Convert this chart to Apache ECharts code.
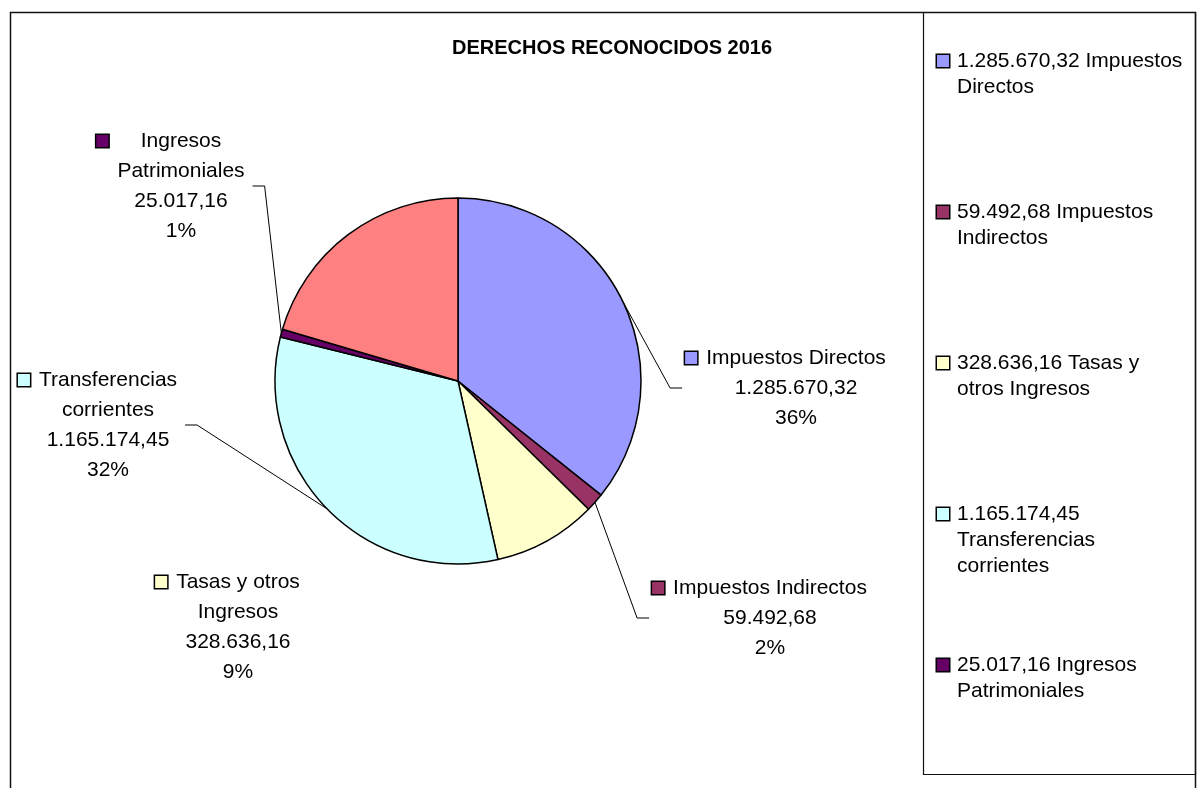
<!DOCTYPE html>
<html>
<head>
<meta charset="utf-8">
<script src="https://cdn.jsdelivr.net/npm/echarts@6/dist/echarts.min.js"></script>
<style>
html, body { margin: 0; background: #fff; }
#chart { width: 1202px; height: 788px; }
</style>
</head>
<body>
<div id="chart"></div>
<script>
// datos
const categorias = ['Impuestos Directos', 'Impuestos Indirectos', 'Tasas y otros Ingresos', 'Transferencias corrientes', 'Ingresos Patrimoniales'];
const importes = [1285670.32, 59492.68, 328636.16, 1165174.45, 25017.16];
// sector rojo sin rotular, estimado por su ángulo
const restoSinEtiqueta = 736000;
const colores = ['#9999FF', '#993366', '#FFFFCC', '#CCFFFF', '#660066', '#FF8080'];

// posicion (centro) de cada etiqueta
const labelCentro = [[796, 388], [770, 618], [238, 627], [108, 425], [181, 186]];

const FUENTE = '"Liberation Sans", Arial, sans-serif';
const ctx = document.createElement('canvas').getContext('2d');
function ancho(txt, size) {
    ctx.font = size + 'px ' + FUENTE;
    return ctx.measureText(txt).width;
}
function partir(txt, max, size) {
    let words = txt.split(' ');
    let lines = [];
    let cur = '';
    for (let w of words) {
        let prueba = cur ? cur + ' ' + w : w;
        if (cur && ancho(prueba, size) > max) {
            lines.push(cur);
            cur = w;
        } else {
            cur = prueba;
        }
    }
    lines.push(cur);
    return lines;
}
function fmt(v) {
    let p = v.toFixed(2).split('.');
    return p[0].replace(/\B(?=(\d{3})+(?!\d))/g, '.') + ',' + p[1];
}

let etiquetaLineas = categorias.map(c => partir(c, 200, 21));
let anchoEtiqueta = etiquetaLineas.map(ls => Math.max(...ls.map(l => ancho(l, 21))));

let richLabel = {
    g: { width: 9, lineHeight: 30 },
    g2: { width: 21, lineHeight: 30 }
};
let richLeyenda = {
    g: { width: 8, lineHeight: 26 },
    ind: { width: 20, lineHeight: 26 }
};
for (let i = 0; i < categorias.length; i++) {
    let sq = { width: 12, height: 12, backgroundColor: colores[i], borderColor: '#000', borderWidth: 1.5 };
    richLabel['sq' + i] = Object.assign({ lineHeight: 30 }, sq);
    richLeyenda['sq' + i] = Object.assign({ lineHeight: 26 }, sq);
    richLabel['t' + i] = { width: anchoEtiqueta[i], align: 'center', fontSize: 21, fontFamily: FUENTE, color: '#000', lineHeight: 30 };
}

let datos = categorias.map((c, i) => ({
    name: c,
    value: importes[i],
    itemStyle: { color: colores[i] },
    labelLine: { show: i !== 2 }
}));
datos.push({
    name: 'resto',
    value: restoSinEtiqueta,
    itemStyle: { color: colores[5] },
    label: { show: false },
    labelLine: { show: false }
});

let chart = echarts.init(document.getElementById('chart'));
chart.setOption({
    animation: false,
    backgroundColor: '#fff',
    title: {
        text: 'DERECHOS RECONOCIDOS 2016',
        left: 452,
        top: 38,
        padding: 0,
        textStyle: { fontSize: 20, fontWeight: 'bold', fontFamily: FUENTE, color: '#000' }
    },
    legend: {
        orient: 'vertical',
        left: 932,
        top: 48,
        padding: 0,
        itemGap: 73,
        itemWidth: 0,
        itemHeight: 14,
        icon: 'none',
        selectedMode: false,
        data: categorias,
        formatter: function (name) {
            let i = categorias.indexOf(name);
            let lines = partir(fmt(importes[i]) + ' ' + name, 230, 21);
            let s = '{sq' + i + '|}{g|}' + lines[0];
            for (let k = 1; k < lines.length; k++) {
                s += '\n{ind|}' + lines[k];
            }
            for (let k = lines.length; k < 3; k++) {
                s += '\n ';
            }
            return s;
        },
        textStyle: { fontSize: 21, fontFamily: FUENTE, color: '#000', lineHeight: 26, rich: richLeyenda }
    },
    graphic: [
        { type: 'rect', silent: true, shape: { x: 10.5, y: 12.5, width: 1185, height: 800 }, style: { fill: 'none', stroke: '#111', lineWidth: 1.5 } },
        { type: 'rect', silent: true, shape: { x: 923.5, y: 12.5, width: 272, height: 762 }, style: { fill: 'none', stroke: '#111', lineWidth: 1.2 } }
    ],
    series: [{
        type: 'pie',
        center: [458, 381],
        radius: 183,
        startAngle: 90,
        clockwise: true,
        percentPrecision: 0,
        avoidLabelOverlap: false,
        emphasis: { scale: false },
        itemStyle: { borderColor: '#000', borderWidth: 1.5 },
        label: {
            fontSize: 21,
            fontFamily: FUENTE,
            color: '#000',
            lineHeight: 30,
            align: 'center',
            rich: richLabel,
            formatter: function (p) {
                let i = p.dataIndex;
                if (i >= etiquetaLineas.length) return '';
                let ls = etiquetaLineas[i];
                let s = '{sq' + i + '|}{g|}{t' + i + '|' + ls[0] + '}{g2|}';
                for (let k = 1; k < ls.length; k++) s += '\n' + ls[k];
                s += '\n' + fmt(p.value) + '\n' + p.percent + '%';
                return s;
            }
        },
        labelLine: { lineStyle: { color: '#000', width: 1 } },
        labelLayout: function (p) {
            let i = p.dataIndex;
            if (i == null || i >= labelCentro.length) return {};
            let x = labelCentro[i][0];
            let y = labelCentro[i][1];
            let res = { x: x, y: y, align: 'center', verticalAlign: 'middle' };
            let a = p.labelLinePoints && p.labelLinePoints[0];
            if (a) {
                let W = anchoEtiqueta[i];
                let dir = x > a[0] ? -1 : 1;
                let ex = x + dir * (W / 2 + (dir < 0 ? 24 : 8));
                res.labelLinePoints = [a, [ex + dir * 12, y], [ex, y]];
            }
            return res;
        },
        data: datos
    }]
});
</script>
</body>
</html>
